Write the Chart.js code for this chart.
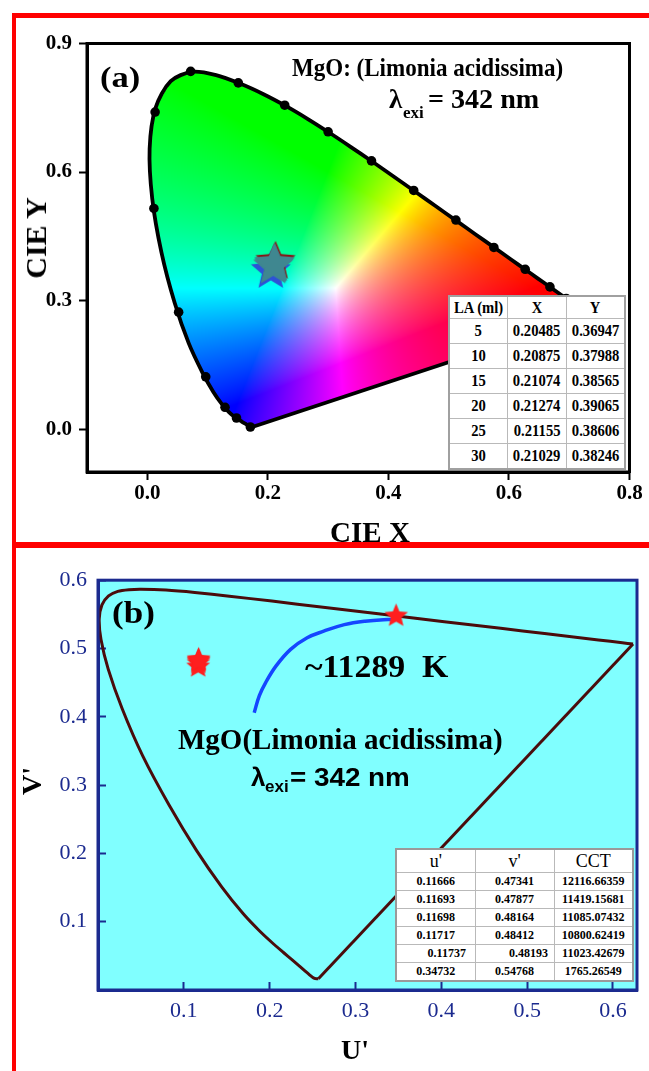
<!DOCTYPE html>
<html>
<head>
<meta charset="utf-8">
<title>MgO (Limonia acidissima) – CIE 1931 / CIE 1976</title>
<script src="https://cdn.jsdelivr.net/npm/chart.js@4.4.1/dist/chart.umd.min.js"></script>
<style>
  html, body { margin: 0; padding: 0; background: #fff; }
  #page { position: relative; width: 649px; height: 1071px; overflow: hidden; }
  canvas { position: absolute; left: 0; z-index: 1; }
  #cieA { top: 0; }
  #cieB { top: 548px; }
  .lbl {
    position: absolute; white-space: pre; line-height: 1; z-index: 2;
    font-family: "Liberation Serif", "Times New Roman", serif; font-weight: bold; color: #000;
    transform-origin: 0 50%;
  }
  .sans { font-family: "Liberation Sans", Arial, sans-serif; }
  .mid { transform: translate(-50%, -50%) rotate(-90deg); transform-origin: 50% 50%; }
  .red { position: absolute; background: #ff0000; z-index: 3; }
  table.inset {
    position: absolute; border-collapse: collapse; background: #fff; z-index: 2;
    font-family: "Liberation Serif", "Times New Roman", serif; table-layout: fixed; color: #000;
  }
  table.inset td { border: 1px solid #b9b9b9; text-align: center; padding: 0; white-space: nowrap; }
  #tableA { left: 448px; top: 295px; width: 178px; border: 2px solid #a0a0a0; }
  #tableA td { height: 24px; font-size: 17px; font-weight: bold; }
  #tableA tr.head td { height: 21px; }
  #tableA td span { display: inline-block; transform: scaleX(0.86); }
  #tableB { left: 395px; top: 848px; width: 239px; border: 2px solid #9a9a9a; }
  #tableB td { height: 17px; font-size: 12px; font-weight: bold; }
  #tableB tr.head td { height: 22px; font-size: 18px; font-weight: normal; }
  #tableB tr.shift td:nth-child(1) { padding-left: 22px; }
  #tableB tr.shift td:nth-child(2) { padding-left: 28px; }
</style>
</head>
<body>
<div id="page">
  <canvas id="cieA" width="649" height="542"></canvas>
  <canvas id="cieB" width="649" height="523"></canvas>

  <div class="lbl" style="left:100px; top:62px; font-size:30px; transform:scaleX(1.15);">(a)</div>
  <div class="lbl" style="left:292px; top:56px; font-size:24.5px; transform:scaleX(0.94);">MgO: (Limonia acidissima)</div>
  <div class="lbl" style="left:389px; top:86px; font-size:27px;">λ</div>
  <div class="lbl" style="left:403px; top:104px; font-size:17px;">exi</div>
  <div class="lbl" style="left:428px; top:86px; font-size:27px; transform:scaleX(1.04);">= 342 nm</div>
  <div class="lbl mid" style="left:36px; top:238px; font-size:30px;">CIE Y</div>
  <div class="lbl" style="left:370px; top:518px; font-size:29px; transform:translateX(-50%);">CIE X</div>

  <div class="lbl" style="left:112px; top:597px; font-size:31px; transform:scaleX(1.13);">(b)</div>
  <div class="lbl" style="left:305px; top:651px; font-size:31px; transform:scaleX(1.09);">~11289  K</div>
  <div class="lbl" style="left:178px; top:725px; font-size:29px;">MgO(Limonia acidissima)</div>
  <div class="lbl sans" style="left:251px; top:764px; font-size:26px;">λ</div>
  <div class="lbl sans" style="left:265px; top:778px; font-size:17px;">exi</div>
  <div class="lbl sans" style="left:290px; top:764px; font-size:26px; transform:scaleX(1.07);">= 342 nm</div>
  <div class="lbl mid" style="left:32px; top:781px; font-size:28px;">V'</div>
  <div class="lbl" style="left:355px; top:1036px; font-size:28px; transform:translateX(-50%);">U'</div>

  <table class="inset" id="tableA"></table>
  <table class="inset" id="tableB"></table>

  <div class="red" style="left:12px; top:13px; width:637px; height:5px;"></div>
  <div class="red" style="left:12px; top:13px; width:4px; height:1058px;"></div>
  <div class="red" style="left:12px; top:542px; width:637px; height:6px;"></div>
</div>

<script>
// CIE 1931 spectral locus (x, y), 380 nm round to 700 nm
const locusX = [0.1741, 0.1714, 0.1689, 0.1644, 0.1566, 0.1440, 0.1355, 0.1241, 0.1096, 0.0913,
  0.0687, 0.0454, 0.0235, 0.0082, 0.0039, 0.0139, 0.0389, 0.0743, 0.1142, 0.1547,
  0.1929, 0.2296, 0.2658, 0.3016, 0.3373, 0.3731, 0.4087, 0.4441, 0.4788, 0.5125,
  0.5448, 0.5752, 0.6029, 0.6270, 0.6482, 0.6658, 0.6915, 0.7079, 0.7190, 0.7300, 0.7347];
const locusY = [0.0050, 0.0051, 0.0069, 0.0109, 0.0177, 0.0297, 0.0399, 0.0578, 0.0868, 0.1327,
  0.2007, 0.2950, 0.4127, 0.5384, 0.6548, 0.7502, 0.8120, 0.8338, 0.8262, 0.8059,
  0.7816, 0.7543, 0.7243, 0.6923, 0.6589, 0.6245, 0.5896, 0.5547, 0.5202, 0.4866,
  0.4544, 0.4242, 0.3965, 0.3725, 0.3514, 0.3340, 0.3083, 0.2920, 0.2809, 0.2700, 0.2653];

// wavelength dots sitting on the locus
const dotX = [0.171, 0.148, 0.129, 0.097, 0.052, 0.011, 0.013, 0.072, 0.151, 0.228, 0.300, 0.372,
  0.442, 0.512, 0.575, 0.627, 0.668, 0.695];
const dotY = [0.005, 0.026, 0.051, 0.122, 0.273, 0.515, 0.740, 0.835, 0.808, 0.756, 0.694, 0.626,
  0.557, 0.488, 0.424, 0.373, 0.332, 0.305];

// sample coordinates (LA dose in ml)
const laDose = [5, 10, 15, 20, 25, 30];
const cieX = [0.20485, 0.20875, 0.21074, 0.21274, 0.21155, 0.21029];
const cieY = [0.36947, 0.37988, 0.38565, 0.39065, 0.38606, 0.38246];
const starColorsA = ["#2d52d6", "#3f8790", "#3f8790", "#8a1010", "#3f8790", "#3f8790"];

const xTicksA = [0, 0.2, 0.4, 0.6, 0.8];
const yTicksA = [0, 0.3, 0.6, 0.9];

// CIE 1976 locus (u', v')
const locusU = [0.2568, 0.2522, 0.2461, 0.2347, 0.2266, 0.2161, 0.2033, 0.1877, 0.1690, 0.1441,
  0.1147, 0.0828, 0.0521, 0.0282, 0.0119, 0.0035, 0.0014, 0.0046, 0.0123, 0.0231,
  0.0360, 0.0501, 0.0792, 0.1127, 0.1531, 0.2026, 0.2623, 0.3315, 0.4035, 0.4692,
  0.5203, 0.5830, 0.6109, 0.6234];
const locusV = [0.0166, 0.0169, 0.0226, 0.0350, 0.0437, 0.0549, 0.0688, 0.0871, 0.1119, 0.1510,
  0.2044, 0.2708, 0.3427, 0.4117, 0.4698, 0.5131, 0.5432, 0.5638, 0.5770, 0.5837,
  0.5861, 0.5868, 0.5856, 0.5821, 0.5766, 0.5694, 0.5604, 0.5501, 0.5393, 0.5296,
  0.5219, 0.5125, 0.5084, 0.5065];

// blue CCT trace
const traceU = [0.182, 0.188, 0.1955, 0.2075, 0.2244, 0.2437, 0.263, 0.287, 0.311, 0.338, 0.347];
const traceV = [0.406, 0.431, 0.4504, 0.4745, 0.4987, 0.5157, 0.5253, 0.535, 0.540, 0.5425, 0.5425];

const uPrime = [0.11666, 0.11693, 0.11698, 0.11717, 0.11737, 0.34732];
const vPrime = [0.47341, 0.47877, 0.48164, 0.48412, 0.48193, 0.54768];
const cct = [12116.66359, 11419.15681, 11085.07432, 10800.62419, 11023.42679, 1765.26549];

const uTicks = [0.1, 0.2, 0.3, 0.4, 0.5, 0.6];
const vTicks = [0.1, 0.2, 0.3, 0.4, 0.5, 0.6];

const SERIF = "'Liberation Serif', 'Times New Roman', serif";
const NAVY = "#1b2a8f";

function toPoints(xs, ys) {
  return xs.map((v, i) => ({ x: v, y: ys[i] }));
}

// straight line of purples joining the two ends of the locus
function purpleLine(xs, ys) {
  const last = xs.length - 1;
  return [{ x: xs[last], y: ys[last] }, { x: xs[0], y: ys[0] }];
}

function fixedTicks(values) {
  return (axis) => {
    axis.ticks = values.map((v) => ({ value: v }));
  };
}

function starImage(fill, r) {
  const size = Math.ceil(r * 2 + 4);
  const c = document.createElement("canvas");
  c.width = size;
  c.height = size;
  const g = c.getContext("2d");
  g.beginPath();
  for (let k = 0; k < 10; k++) {
    const rad = k % 2 ? r * 0.45 : r;
    const ang = -Math.PI / 2 + (k * Math.PI) / 5;
    const px = size / 2 + rad * Math.cos(ang);
    const py = size / 2 + rad * Math.sin(ang);
    if (k) g.lineTo(px, py); else g.moveTo(px, py);
  }
  g.closePath();
  g.fillStyle = fill;
  g.fill();
  return c;
}

// saturated sRGB colour for a chromaticity
function chromaColor(cx, cy) {
  if (cy < 0.002) cy = 0.002;
  const X = cx / cy;
  const Z = (1 - cx - cy) / cy;
  const r = Math.max(0, 3.2406 * X - 1.5372 - 0.4986 * Z);
  const g = Math.max(0, -0.9689 * X + 1.8758 + 0.0415 * Z);
  const b = Math.max(0, 0.0557 * X - 0.204 + 1.057 * Z);
  const m = Math.max(r, g, b) || 1;
  return [r, g, b].map((c) => Math.round(255 * Math.pow(c / m, 0.8)));
}

const gamutFill = {
  id: "gamutFill",
  beforeDatasetsDraw(chart) {
    const { ctx, chartArea: a, scales: { x, y } } = chart;
    const w = Math.round(a.right - a.left);
    const h = Math.round(a.bottom - a.top);
    const off = document.createElement("canvas");
    off.width = w;
    off.height = h;
    const octx = off.getContext("2d");
    const img = octx.createImageData(w, h);
    for (let j = 0; j < h; j++) {
      const cy = y.getValueForPixel(a.top + j + 0.5);
      for (let i = 0; i < w; i++) {
        const cx = x.getValueForPixel(a.left + i + 0.5);
        const [r, g, b] = chromaColor(cx, cy);
        const k = (j * w + i) * 4;
        img.data[k] = r;
        img.data[k + 1] = g;
        img.data[k + 2] = b;
        img.data[k + 3] = 255;
      }
    }
    octx.putImageData(img, 0, 0);
    ctx.save();
    ctx.beginPath();
    locusX.forEach((v, k) => {
      const px = x.getPixelForValue(v);
      const py = y.getPixelForValue(locusY[k]);
      if (k) ctx.lineTo(px, py); else ctx.moveTo(px, py);
    });
    ctx.closePath();
    ctx.clip();
    ctx.drawImage(off, a.left, a.top);
    ctx.restore();
  },
};

const cyanBackground = {
  id: "cyanBackground",
  beforeDraw(chart) {
    const { ctx, chartArea: a } = chart;
    ctx.save();
    ctx.fillStyle = "#80ffff";
    ctx.fillRect(a.left, a.top, a.right - a.left, a.bottom - a.top);
    ctx.restore();
  },
};

function framePlugin(color) {
  return {
    id: "frame",
    afterDatasetsDraw(chart) {
      const { ctx, chartArea: a } = chart;
      ctx.save();
      ctx.strokeStyle = color;
      ctx.lineWidth = 3;
      ctx.strokeRect(a.left, a.top, a.right - a.left, a.bottom - a.top);
      ctx.restore();
    },
  };
}

function renderTables() {
  document.getElementById("tableA").innerHTML =
    `<tr class="head"><td><span>LA (ml)</span></td><td><span>X</span></td><td><span>Y</span></td></tr>` +
    laDose.map((d, i) => `
      <tr><td><span>${d}</span></td><td><span>${cieX[i].toFixed(5)}</span></td><td><span>${cieY[i].toFixed(5)}</span></td></tr>
    `).join("");

  document.getElementById("tableB").innerHTML =
    `<tr class="head"><td>u'</td><td>v'</td><td>CCT</td></tr>` +
    uPrime.map((u, i) => `
      <tr${i === 4 ? ' class="shift"' : ""}><td>${u.toFixed(5)}</td><td>${vPrime[i].toFixed(5)}</td><td>${cct[i].toFixed(5)}</td></tr>
    `).join("");
}

function renderChartA() {
  new Chart(document.getElementById("cieA"), {
    type: "scatter",
    data: {
      datasets: [
        {
          label: "LA samples",
          data: toPoints(cieX, cieY),
          pointStyle: starColorsA.map((c) => starImage(c, 21)),
        },
        {
          label: "wavelength marks",
          data: toPoints(dotX, dotY),
          pointStyle: "circle",
          pointRadius: 4.8,
          backgroundColor: "#000",
          borderWidth: 0,
        },
        {
          label: "spectral locus",
          data: toPoints(locusX, locusY),
          showLine: true,
          borderColor: "#000",
          borderWidth: 3.8,
          pointRadius: 0,
          tension: 0.3,
        },
        {
          label: "purple line",
          data: purpleLine(locusX, locusY),
          showLine: true,
          borderColor: "#000",
          borderWidth: 3.8,
          pointRadius: 0,
        },
      ],
    },
    options: {
      responsive: false,
      animation: false,
      events: [],
      layout: { padding: { top: 43.5, right: 19.5, left: 0, bottom: 0 } },
      plugins: { legend: { display: false }, tooltip: { enabled: false } },
      scales: {
        x: {
          type: "linear",
          min: -0.1,
          max: 0.8,
          afterBuildTicks: fixedTicks(xTicksA),
          afterFit: (axis) => { axis.height = 70; },
          grid: { drawOnChartArea: false, tickLength: 8, tickColor: "#000", tickWidth: 2 },
          border: { color: "#000", width: 3 },
          ticks: {
            padding: 1,
            color: "#000",
            maxRotation: 0,
            autoSkip: false,
            font: { family: SERIF, size: 21, weight: "bold" },
            callback: (v) => Number(v).toFixed(1),
          },
        },
        y: {
          type: "linear",
          min: -0.1,
          max: 0.9,
          afterBuildTicks: fixedTicks(yTicksA),
          afterFit: (axis) => { axis.width = 87; },
          grid: { drawOnChartArea: false, tickLength: 8, tickColor: "#000", tickWidth: 2 },
          border: { color: "#000", width: 3 },
          ticks: {
            padding: 7,
            color: "#000",
            autoSkip: false,
            font: { family: SERIF, size: 21, weight: "bold" },
            callback: (v) => Number(v).toFixed(1),
          },
        },
      },
    },
    plugins: [gamutFill, framePlugin("#000")],
  });
}

function renderChartB() {
  const redStar = starImage("#ff1f1f", 12.5);
  new Chart(document.getElementById("cieB"), {
    type: "scatter",
    data: {
      datasets: [
        {
          label: "samples",
          data: toPoints(uPrime, vPrime),
          pointStyle: redStar,
        },
        {
          label: "CCT trace",
          data: toPoints(traceU, traceV),
          showLine: true,
          borderColor: "#1546ff",
          borderWidth: 3.5,
          pointRadius: 0,
          tension: 0.4,
        },
        {
          label: "spectral locus",
          data: toPoints(locusU, locusV),
          showLine: true,
          borderColor: "#4a0c0c",
          borderWidth: 3,
          pointRadius: 0,
          tension: 0.25,
        },
        {
          label: "purple line",
          data: purpleLine(locusU, locusV),
          showLine: true,
          borderColor: "#4a0c0c",
          borderWidth: 3,
          pointRadius: 0,
        },
      ],
    },
    options: {
      responsive: false,
      animation: false,
      events: [],
      layout: { padding: { top: 18, right: 12, left: 0, bottom: 0 } },
      plugins: { legend: { display: false }, tooltip: { enabled: false } },
      scales: {
        x: {
          type: "linear",
          min: 0,
          max: 0.628,
          afterBuildTicks: fixedTicks(uTicks),
          afterFit: (axis) => { axis.height = 81; },
          grid: { drawOnChartArea: false, tickLength: -8, tickColor: NAVY, tickWidth: 2 },
          border: { color: NAVY, width: 3 },
          ticks: {
            padding: 16,
            color: NAVY,
            maxRotation: 0,
            autoSkip: false,
            font: { family: SERIF, size: 22 },
            callback: (v) => Number(v).toFixed(1),
          },
        },
        y: {
          type: "linear",
          min: 0,
          max: 0.6,
          afterBuildTicks: fixedTicks(vTicks),
          afterFit: (axis) => { axis.width = 98; },
          grid: { drawOnChartArea: false, tickLength: -8, tickColor: NAVY, tickWidth: 2 },
          border: { color: NAVY, width: 3 },
          ticks: {
            padding: 19,
            color: NAVY,
            autoSkip: false,
            font: { family: SERIF, size: 22 },
            callback: (v) => Number(v).toFixed(1),
          },
        },
      },
    },
    plugins: [cyanBackground, framePlugin(NAVY)],
  });
}

renderTables();
renderChartA();
renderChartB();
</script>
</body>
</html>
